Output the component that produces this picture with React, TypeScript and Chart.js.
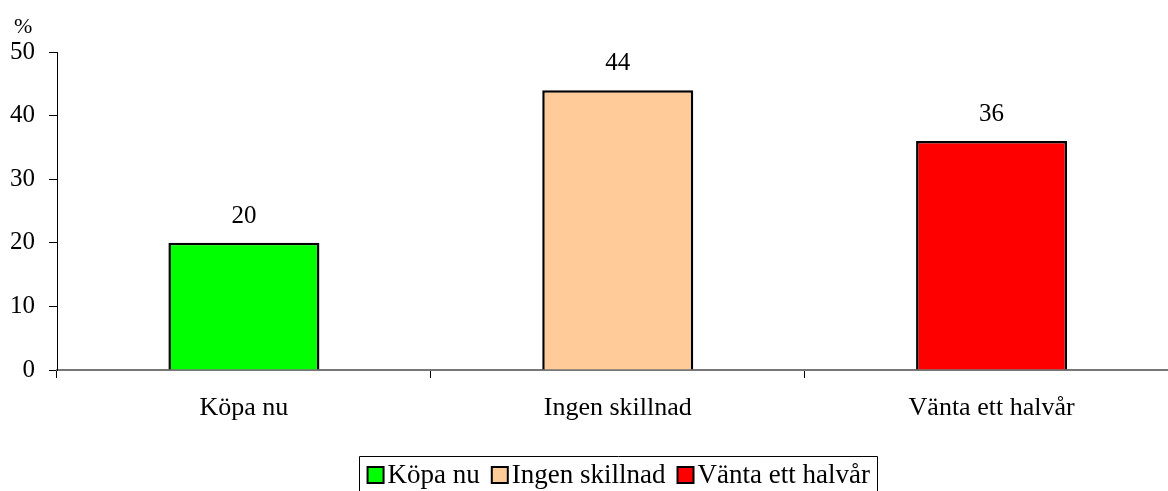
import React, { useEffect, useRef } from "react";
import { Chart, registerables } from "chart.js";

Chart.register(...registerables);

const categories = ["Köpa nu", "Ingen skillnad", "Vänta ett halvår"];
const values = [20, 44, 36];
const barColors = ["#00FF00", "#FFCC99", "#FF0000"];
const yTicks = [0, 10, 20, 30, 40, 50];
const unitLabel = "%";

const FONT = "'Liberation Serif', 'Times New Roman', serif";

const CANVAS_W = 1200;
const CANVAS_H = 491;

const labelsPlugin = {
  id: "valueLabels",
  afterDatasetsDraw(chart: any) {
    const ctx = chart.ctx;
    const meta = chart.getDatasetMeta(0);
    ctx.save();
    ctx.font = `25px ${FONT}`;
    ctx.fillStyle = "#000";
    ctx.textAlign = "center";
    ctx.textBaseline = "alphabetic";
    meta.data.forEach((bar: any, i: number) => {
      ctx.fillText(String(values[i]), bar.x, bar.y - 20);
    });
    ctx.restore();
  },
};

const unitPlugin = {
  id: "unitLabel",
  afterDraw(chart: any) {
    const ctx = chart.ctx;
    ctx.save();
    ctx.font = `22px ${FONT}`;
    ctx.fillStyle = "#000";
    ctx.textAlign = "left";
    ctx.textBaseline = "alphabetic";
    ctx.fillText(unitLabel, 14, 33);
    ctx.restore();
  },
};

const legendPlugin = {
  id: "boxLegend",
  afterDraw(chart: any) {
    const ctx = chart.ctx;
    const area = chart.chartArea;
    ctx.save();
    ctx.font = `27px ${FONT}`;
    const sq = 16;
    const gap = 4;
    const itemGap = 12;
    const widths = categories.map((c) => ctx.measureText(c).width);
    const total =
      widths.reduce((a, b) => a + b, 0) +
      categories.length * (sq + gap) +
      (categories.length - 1) * itemGap;
    const center = (area.left + area.right) / 2;
    const padX = 8;
    const boxLeft = center - total / 2 - padX;
    const boxRight = center + total / 2 + padX;
    const boxTop = 456;
    ctx.strokeStyle = "#000";
    ctx.lineWidth = 1;
    ctx.beginPath();
    ctx.moveTo(Math.round(boxLeft) + 0.5, CANVAS_H + 5);
    ctx.lineTo(Math.round(boxLeft) + 0.5, boxTop + 0.5);
    ctx.lineTo(Math.round(boxRight) + 0.5, boxTop + 0.5);
    ctx.lineTo(Math.round(boxRight) + 0.5, CANVAS_H + 5);
    ctx.stroke();
    let x = center - total / 2 + 1;
    const midY = 475;
    categories.forEach((c, i) => {
      ctx.fillStyle = barColors[i];
      ctx.fillRect(x, midY - sq / 2, sq, sq);
      ctx.lineWidth = 2;
      ctx.strokeStyle = "#000";
      ctx.strokeRect(x, midY - sq / 2, sq, sq);
      x += sq + gap;
      ctx.fillStyle = "#000";
      ctx.textAlign = "left";
      ctx.textBaseline = "middle";
      ctx.fillText(c, x, midY + 1);
      x += widths[i] + itemGap;
    });
    ctx.restore();
  },
};

export default function App() {
  const ref = useRef<HTMLCanvasElement | null>(null);
  useEffect(() => {
    if (!ref.current) return;
    const chart = new Chart(ref.current, {
      type: "bar",
      data: {
        labels: categories,
        datasets: [
          {
            data: values,
            backgroundColor: barColors,
            borderColor: "#000",
            borderWidth: 2.5,
            categoryPercentage: 1,
            barPercentage: 0.404,
          },
        ],
      },
      options: {
        responsive: false,
        animation: false,
        devicePixelRatio: 1,
        layout: { padding: { left: 0, right: CANVAS_W - 1178.5, top: 52, bottom: 0 } },
        plugins: {
          legend: { display: false },
          tooltip: { enabled: false },
        },
        scales: {
          x: {
            afterFit: (s: any) => {
              s.height = 121;
            },
            grid: {
              offset: true,
              drawOnChartArea: false,
              drawTicks: true,
              tickLength: 8,
              color: "#000",
            },
            border: { display: true, color: "#777", width: 2 },
            ticks: {
              color: "#000",
              font: { family: FONT, size: 26 },
              padding: 15,
              maxRotation: 0,
            },
          },
          y: {
            min: 0,
            max: 50,
            afterFit: (s: any) => {
              s.width = 57;
            },
            afterBuildTicks: (s: any) => {
              s.ticks = yTicks.map((v) => ({ value: v }));
            },
            grid: {
              drawOnChartArea: false,
              drawTicks: true,
              tickLength: 8,
              color: "#000",
            },
            border: { display: true, color: "#000", width: 1 },
            ticks: {
              color: "#000",
              font: { family: FONT, size: 25 },
              padding: 14,
            },
          },
        },
      },
      plugins: [labelsPlugin, unitPlugin, legendPlugin],
    });
    return () => chart.destroy();
  }, []);
  return (
    <div
      style={{
        position: "absolute",
        left: 0,
        top: 0,
        width: 1168,
        height: CANVAS_H,
        overflow: "hidden",
        background: "#fff",
      }}
    >
      <canvas ref={ref} width={CANVAS_W} height={CANVAS_H} style={{ width: CANVAS_W, height: CANVAS_H, display: "block" }} />
    </div>
  );
}
